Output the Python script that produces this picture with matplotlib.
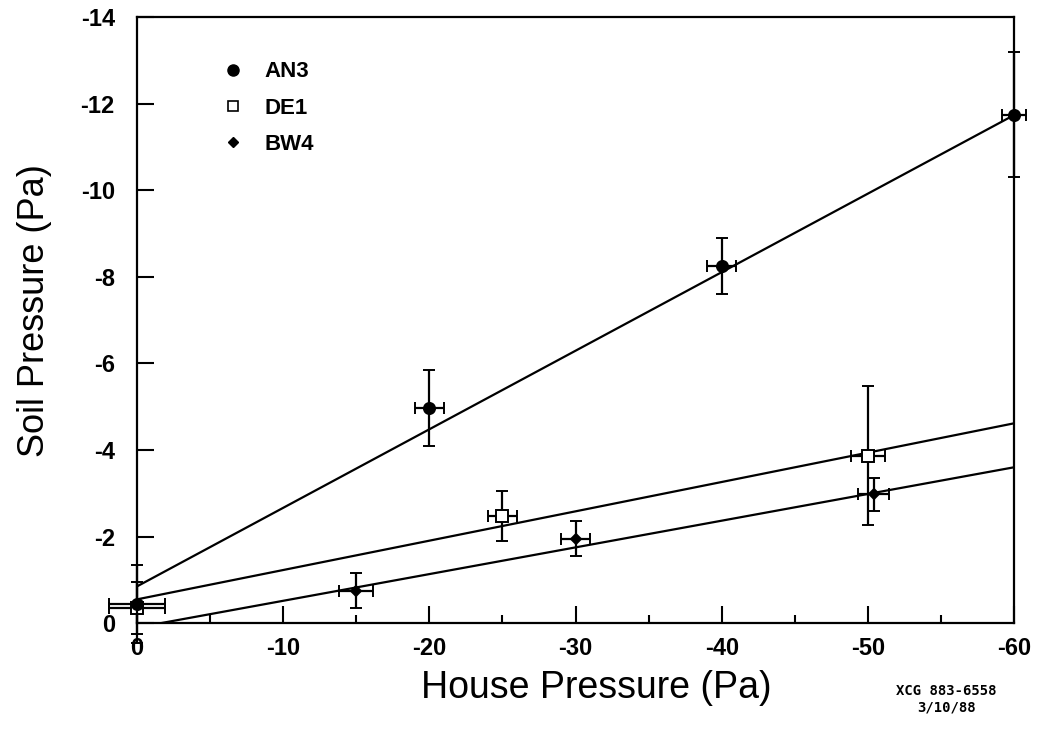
import matplotlib
matplotlib.use("Agg")
import matplotlib.pyplot as plt
from matplotlib.lines import Line2D
import numpy as np

plt.rcParams["font.family"] = ["Liberation Sans", "DejaVu Sans"]
plt.rcParams["axes.unicode_minus"] = False

# --- data (Pa) ---
an3_x = [0, -20, -40, -60]
an3_y = [-0.45, -4.97, -8.25, -11.75]
an3_xerr = [1.9, 1.0, 1.0, 0.8]
an3_yerr = [0.9, 0.88, 0.65, 1.45]

de1_x = [0, -25, -50]
de1_y = [-0.36, -2.47, -3.87]
de1_xerr = [1.9, 1.0, 1.15]
de1_yerr = [0.6, 0.58, 1.6]

bw4_x = [-15, -30, -50.4]
bw4_y = [-0.75, -1.95, -2.98]
bw4_xerr = [1.15, 1.0, 1.05]
bw4_yerr = [0.4, 0.4, 0.38]

# fitted lines: intercept at 0 Pa and slope (soil per house)
fit_names = ["AN3", "DE1", "BW4"]
fit_intercept = [-0.85, -0.55, 0.1]
fit_slope = [0.1815, 0.0678, 0.0617]

xticks = [0, -10, -20, -30, -40, -50, -60]
yticks = [0, -2, -4, -6, -8, -10, -12, -14]

fig = plt.figure(figsize=(10.38, 7.49), dpi=100)
ax = fig.add_axes([0.132, 0.168, 0.845, 0.809])

xs = np.array([0, -60])
for b, m in zip(fit_intercept, fit_slope):
    ax.plot(xs, b + m * xs, color="black", lw=1.6, zorder=2)

ebkw = dict(ecolor="black", elinewidth=1.6, capsize=4.5, capthick=1.6,
            linestyle="none", clip_on=False)
for x, y, xe, ye, mk, ms, fc, z in [
        (de1_x, de1_y, de1_xerr, de1_yerr, "s", 8, "white", 3),
        (bw4_x, bw4_y, bw4_xerr, bw4_yerr, "D", 5.5, "black", 3),
        (an3_x, an3_y, an3_xerr, an3_yerr, "o", 8, "black", 4)]:
    _, caps, bars = ax.errorbar(x, y, xerr=xe, yerr=ye, marker=mk, ms=ms,
                                mfc=fc, mec="black", mew=1.4, zorder=z, **ebkw)
    for c in caps:
        c.set_clip_on(False)
    for bc in bars:
        bc.set_clip_on(False)

ax.set_xlim(0, -60)
ax.set_ylim(0, -14)
ax.set_xticks(xticks)
ax.set_xticklabels([str(t) for t in xticks])
ax.set_yticks(yticks)
ax.set_yticklabels([str(t) for t in yticks])
ax.set_xticks(np.arange(-5, -60, -10), minor=True)
ax.tick_params(which="major", direction="in", length=12, width=1.5,
               labelsize=17, pad=10)
ax.tick_params(axis="y", which="major", pad=16)
ax.tick_params(which="minor", direction="in", length=6, width=1.5)
for lab in ax.get_xticklabels() + ax.get_yticklabels():
    lab.set_fontweight("bold")
for s in ax.spines.values():
    s.set_linewidth(1.6)

ax.set_xlabel("House Pressure (Pa)", fontsize=27)
ax.xaxis.set_label_coords(0.524, -0.078)
ax.set_ylabel("Soil Pressure (Pa)", fontsize=26)
ax.yaxis.set_label_coords(-0.097, 0.516)

handles = [
    Line2D([], [], marker="o", ls="none", color="black", ms=8),
    Line2D([], [], marker="s", ls="none", mfc="white", mec="black", mew=1.2, ms=7),
    Line2D([], [], marker="D", ls="none", color="black", ms=5),
]
leg = ax.legend(handles, fit_names, loc="upper left", bbox_to_anchor=(0.074, 0.96),
                frameon=False, prop=dict(size=16, weight="bold"),
                labelspacing=0.68, handletextpad=0.9, handlelength=1.0)

fig.text(0.912, 0.066, "XCG 883-6558\n3/10/88", fontsize=10, fontweight="bold",
         family="DejaVu Sans Mono", ha="center", va="center", linespacing=1.25)

fig.savefig("out.png", dpi=100, facecolor="white")
